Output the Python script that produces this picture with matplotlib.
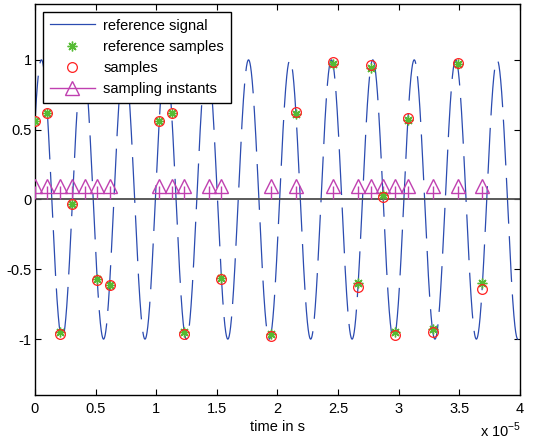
import numpy as np
import matplotlib
matplotlib.use("Agg")
import matplotlib.pyplot as plt
from matplotlib.lines import Line2D

plt.rcParams['font.family'] = ['Liberation Sans', 'DejaVu Sans']
plt.rcParams['lines.scale_dashes'] = False

# reference tone (amplitude 1)
signal_freq = 292.7e3      # Hz
signal_phase_deg = 34.0

# sampling instants, in units of 1e-5 s
sample_times = [0.0, 0.1025, 0.205, 0.3075, 0.41, 0.5125, 0.615,
                1.025, 1.1275, 1.23, 1.435, 1.5375, 1.9475, 2.1525,
                2.46, 2.665, 2.7675, 2.87, 2.9725, 3.075, 3.28, 3.485, 3.69]

# ideal values of the reference at those instants
ref_samples = [0.56, 0.62, -0.95, -0.03, 0.96, -0.57, -0.61,
               0.56, 0.62, -0.95, 0.96, -0.56, -0.96, 0.61,
               0.97, -0.60, 0.94, 0.03, -0.95, 0.57, -0.93, 0.97, -0.60]

# measured (noisy) samples
samples = [0.56, 0.62, -0.96, -0.03, 0.97, -0.58, -0.61,
           0.56, 0.62, -0.96, 0.97, -0.57, -0.98, 0.63,
           0.985, -0.63, 0.96, 0.02, -0.97, 0.58, -0.95, 0.98, -0.64]

instant_height = 0.1

xticks = [0, 0.5, 1, 1.5, 2, 2.5, 3, 3.5, 4]
xticklabels = ['0', '0.5', '1', '1.5', '2', '2.5', '3', '3.5', '4']
yticks = [-1, -0.5, 0, 0.5, 1]
yticklabels = ['-1', '-0.5', '0', '0.5', '1']

scale = 1e-5
t_s = np.array(sample_times) * scale

fig = plt.figure(figsize=(5.34, 4.43), dpi=100)
ax = fig.add_axes([0.0655, 0.1084, 0.9082, 0.8826])

blue = '#2b4bb0'
green = '#55bb33'
red = '#ff2020'
magenta = '#c040b0'

t = np.linspace(0, 4 * scale, 4000)
sig = np.sin(2 * np.pi * signal_freq * t + np.deg2rad(signal_phase_deg))
ax.plot(t, sig, color=blue, lw=0.9, dashes=(33, 9))

ax.plot(t_s, ref_samples, ls='none', marker=(8, 2, 0), ms=7,
        mec=green, mew=1.0, zorder=4)
ax.plot(t_s, samples, ls='none', marker='o', ms=7, mfc='none',
        mec=red, mew=0.9, zorder=5)

# stems for the sampling instants
ax.vlines(t_s, 0, instant_height, color=magenta, lw=1.0, zorder=3)
ax.plot(t_s, [instant_height] * len(t_s), ls='none', marker='^', ms=10,
        mfc='none', mec=magenta, mew=1.0, zorder=3)
ax.axhline(0, color='0.3', lw=1.3, zorder=2)

ax.set_xlim(0, 4 * scale)
ax.set_ylim(-1.4, 1.4)
ax.set_xticks(np.array(xticks) * scale)
ax.set_xticklabels(xticklabels)
ax.set_yticks(yticks)
ax.set_yticklabels(yticklabels)
ax.tick_params(direction='in', length=4, width=0.8, top=True, right=True,
               labelsize=10.5, colors='black')
ax.tick_params(axis='x', pad=5)
ax.tick_params(axis='y', pad=2.5)
for sp in ax.spines.values():
    sp.set_linewidth(1.0)

ax.set_xlabel('time in s', fontsize=10.5, labelpad=3)
fig.text(0.899, 0.0125, r'x 10$^{\mathregular{-5}}$', fontsize=10.5)

handles = [
    Line2D([], [], color=blue, lw=0.9),
    Line2D([], [], ls='none', marker=(8, 2, 0), ms=7, mec=green, mew=1.0),
    Line2D([], [], ls='none', marker='o', ms=7, mfc='none', mec=red, mew=0.9),
    Line2D([], [], color=magenta, lw=1.0, marker='^', ms=10, mfc='none',
           mec=magenta, mew=1.0),
]
labels = ['reference signal', 'reference samples', 'samples', 'sampling instants']
leg = ax.legend(handles, labels, loc='upper left', bbox_to_anchor=(0.0165, 0.9795),
                borderaxespad=0, fontsize=10.5, fancybox=False, framealpha=1,
                edgecolor='black', handlelength=3.1, handletextpad=0.6,
                labelspacing=0.5, borderpad=0.45, numpoints=1)
leg.get_frame().set_linewidth(1.0)
leg.set_zorder(10)

fig.savefig('out.png', dpi=100)
